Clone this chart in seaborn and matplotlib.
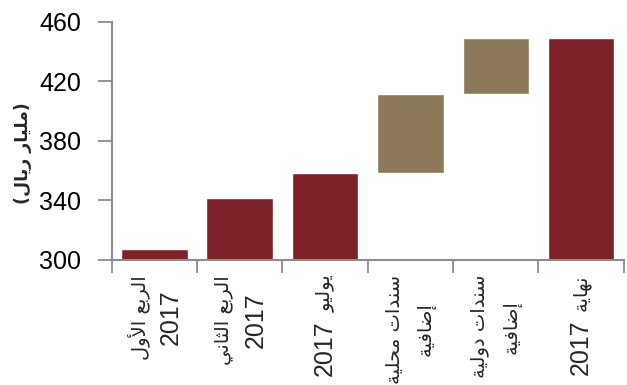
import matplotlib
matplotlib.use("Agg")
import matplotlib.pyplot as plt
import seaborn as sns
import pandas as pd

# ---- data (billion riyals) ----
categories = ["الربع الأول\n2017", "الربع الثاني\n2017", "يوليو 2017",
              "سندات محلية\nإضافية", "سندات دولية\nإضافية", "نهاية 2017"]
kinds = ["total", "total", "total", "step", "step", "total"]
q1_level = 307.5
q2_level = 341.7
july_level = 358.5
local_bonds = 53.1
intl_bonds = 37.6
year_end_level = july_level + local_bonds + intl_bonds
y_ticks = [300, 340, 380, 420, 460]
y_label = "(مليار ريال)"

# ---- minimal Arabic shaping (matplotlib has no bidi / joining support) ----
FORMS = {  # isolated, final, initial, medial
    "ا": ("\uFE8D", "\uFE8E", None, None), "أ": ("\uFE83", "\uFE84", None, None),
    "إ": ("\uFE87", "\uFE88", None, None), "ب": ("\uFE8F", "\uFE90", "\uFE91", "\uFE92"),
    "ة": ("\uFE93", "\uFE94", None, None), "ت": ("\uFE95", "\uFE96", "\uFE97", "\uFE98"),
    "ث": ("\uFE99", "\uFE9A", "\uFE9B", "\uFE9C"), "ح": ("\uFEA1", "\uFEA2", "\uFEA3", "\uFEA4"),
    "د": ("\uFEA9", "\uFEAA", None, None), "ر": ("\uFEAD", "\uFEAE", None, None),
    "س": ("\uFEB1", "\uFEB2", "\uFEB3", "\uFEB4"), "ض": ("\uFEBD", "\uFEBE", "\uFEBF", "\uFEC0"),
    "ع": ("\uFEC9", "\uFECA", "\uFECB", "\uFECC"), "ف": ("\uFED1", "\uFED2", "\uFED3", "\uFED4"),
    "ل": ("\uFEDD", "\uFEDE", "\uFEDF", "\uFEE0"), "م": ("\uFEE1", "\uFEE2", "\uFEE3", "\uFEE4"),
    "ن": ("\uFEE5", "\uFEE6", "\uFEE7", "\uFEE8"), "ه": ("\uFEE9", "\uFEEA", "\uFEEB", "\uFEEC"),
    "و": ("\uFEED", "\uFEEE", None, None), "ي": ("\uFEF1", "\uFEF2", "\uFEF3", "\uFEF4"),
}
LAM_ALEF = {"ا": ("\uFEFB", "\uFEFC"), "أ": ("\uFEF7", "\uFEF8"), "إ": ("\uFEF9", "\uFEFA")}
MIRROR = {"(": ")", ")": "("}


def shape_word(word):
    out = []
    prev_joins = False
    i = 0
    n = len(word)
    while i < n:
        ch = word[i]
        if ch == "ل" and i + 1 < n and word[i + 1] in LAM_ALEF:
            iso, fin = LAM_ALEF[word[i + 1]]
            out.append(fin if prev_joins else iso)
            prev_joins = False
            i += 2
            continue
        if ch not in FORMS:
            out.append(ch)
            prev_joins = False
            i += 1
            continue
        iso, fin, ini, med = FORMS[ch]
        nxt = word[i + 1] if i + 1 < n else ""
        next_joins = ini is not None and nxt in FORMS
        if prev_joins and next_joins:
            out.append(med)
        elif prev_joins:
            out.append(fin)
        elif next_joins:
            out.append(ini)
        else:
            out.append(iso)
        prev_joins = next_joins
        i += 1
    return out


def visual_word(word):
    if word.isdigit():
        return word
    return "".join(MIRROR.get(g, g) for g in reversed(shape_word(word)))


def visual(line):
    # right-to-left line: words in reverse order, digit runs kept left-to-right
    return " ".join(visual_word(w) for w in reversed(line.split(" ")))


# ---- figure ----
sns.set_theme(style="white")
plt.rcParams["font.family"] = ["Liberation Sans", "DejaVu Sans"]

tops = [q1_level, q2_level, july_level, local_bonds, intl_bonds, year_end_level]
bases = [0, 0, 0, july_level, july_level + local_bonds, 0]
df = pd.DataFrame({"category": categories, "height": tops, "base": bases, "kind": kinds})

fig = plt.figure(figsize=(6.27, 3.85), dpi=100)
ax = fig.add_axes([0.178, 0.325, 0.817, 0.619])

maroon = "#7E222A"
tan = "#8C7959"
totals = df[df["kind"] == "total"]
steps = df[df["kind"] == "step"]
sns.barplot(data=totals, x="category", y="height", order=categories,
            color=maroon, saturation=1, width=0.78, ax=ax)
sns.barplot(data=steps, x="category", y="height", order=categories,
            color=tan, saturation=1, width=0.78, bottom=steps["base"].tolist(), ax=ax)

ax.set_ylim(300, 460)
ax.set_xlim(-0.5, 5.5)
ax.set_yticks(y_ticks)
ax.set_yticklabels([str(t) for t in y_ticks], fontsize=18)

# ticks mark the category boundaries; labels are drawn at the centres below
ax.set_xticks([i - 0.5 for i in range(len(categories) + 1)])
ax.set_xticklabels([])
ax.tick_params(axis="x", length=9, width=1.3, color="#8c8c8c",
               direction="out", bottom=True)
ax.tick_params(axis="y", length=10, width=1.3, color="#8c8c8c", direction="out",
               left=True, pad=12, labelcolor="black")

for side in ("top", "right"):
    ax.spines[side].set_visible(False)
for side in ("left", "bottom"):
    ax.spines[side].set_color("#8c8c8c")
    ax.spines[side].set_linewidth(1.5)
ax.set_xlabel("")

# ---- vertical category labels: Arabic words and numerals set separately ----
renderer = fig.canvas.get_renderer()
AR_FONT = dict(family=["DejaVu Sans"], fontsize=14)
NUM_FONT = dict(family=["Liberation Sans"], fontsize=18)
TOP_GAP = 15       # pixels between axis line and label block
LINE_GAP = 32      # pixels between stacked label lines
WORD_GAP = 8       # pixels between words along a line
xaxis_tf = ax.get_xaxis_transform()


def run_text(text, x, dx, dy):
    font = NUM_FONT if text.isdigit() else AR_FONT
    return ax.annotate(text, xy=(x, 0), xycoords=xaxis_tf, xytext=(dx, dy),
                       textcoords="offset pixels", rotation=90,
                       ha="center", va="top", annotation_clip=False, **font)


for xi, label in enumerate(categories):
    lines = label.split("\n")
    n_lines = len(lines)
    measured = []
    for li, line in enumerate(lines):
        words = line.split(" ")
        # consecutive Arabic words stay together, numerals on their own
        groups = []
        for w in words:
            if w.isdigit() or not groups or groups[-1][0]:
                groups.append([w.isdigit(), [w]])
            else:
                groups[-1][1].append(w)
        items = []
        for is_num, ws in groups:
            txt = ws[0] if is_num else visual(" ".join(ws))
            t = run_text(txt, xi, 0, 0)
            length = t.get_window_extent(renderer).height
            items.append((t, length))
        total = sum(l for _, l in items) + WORD_GAP * (len(items) - 1)
        measured.append((li, items, total))
    block = max(m[2] for m in measured)
    for li, items, total in measured:
        dx = (li - (n_lines - 1) / 2) * LINE_GAP
        y = -TOP_GAP - (block - total) / 2
        for t, length in items:
            t.xyann = (dx, y)
            y -= length + WORD_GAP

ax.set_ylabel(visual(y_label), fontsize=12.5, fontweight="bold",
              family=["DejaVu Sans"])
ax.yaxis.set_label_coords(-0.156, 0.45)

fig.savefig("out.png", dpi=100)
